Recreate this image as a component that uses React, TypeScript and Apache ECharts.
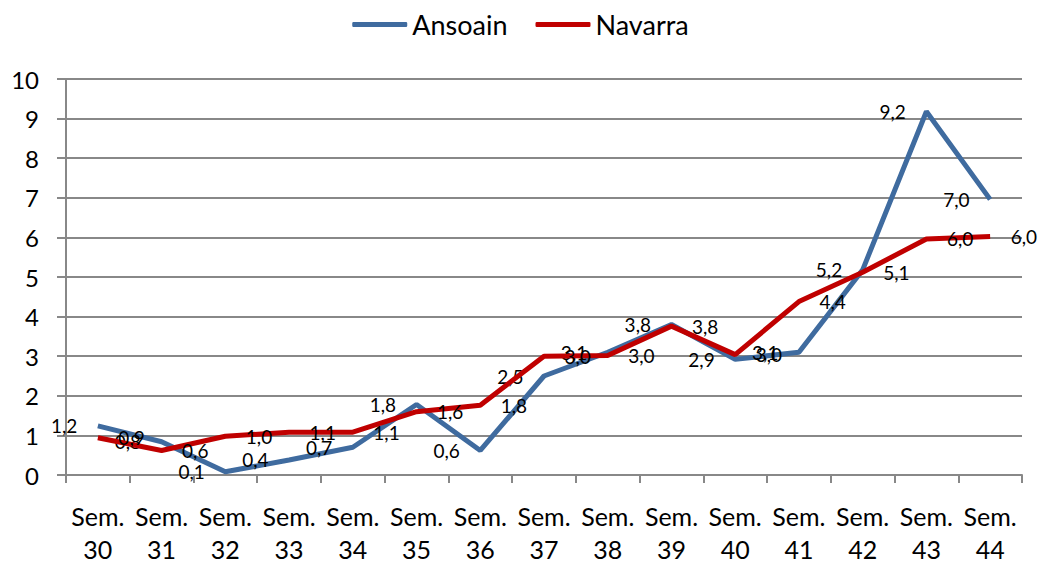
import React, { useEffect, useRef } from "react";
import * as echarts from "echarts";

const categories = [
  "Sem.\n30", "Sem.\n31", "Sem.\n32", "Sem.\n33", "Sem.\n34", "Sem.\n35", "Sem.\n36", "Sem.\n37",
  "Sem.\n38", "Sem.\n39", "Sem.\n40", "Sem.\n41", "Sem.\n42", "Sem.\n43", "Sem.\n44",
];
const ansoain = [1.24, 0.84, 0.08, 0.38, 0.7, 1.78, 0.62, 2.5, 3.1, 3.8, 2.92, 3.1, 5.18, 9.18, 6.96];
const navarra = [0.94, 0.62, 0.98, 1.08, 1.08, 1.6, 1.76, 3.0, 3.02, 3.76, 3.04, 4.38, 5.12, 5.96, 6.02];
const yTicks = [0, 1, 2, 3, 4, 5, 6, 7, 8, 9, 10];

const FONT = "Lato";
const GRAY = "#888888";
const BLUE = "#3F6B9F";
const RED = "#C00000";

export default function App() {
  const ref = useRef<HTMLDivElement>(null);
  useEffect(() => {
    const chart = echarts.init(ref.current!, null, { renderer: "svg" });
    const fmt = (p: any) => Number(p.value).toFixed(1).replace(".", ",");
    const labelBase = { show: true, distance: 20, formatter: fmt, color: "#000", fontSize: 19, fontFamily: FONT };
    chart.setOption({
      animation: false,
      textStyle: { fontFamily: FONT },
      legend: {
        top: 6,
        left: "center",
        icon: "roundRect",
        itemWidth: 55,
        itemHeight: 5,
        itemGap: 28,
        textStyle: { fontSize: 27, color: "#000", fontFamily: FONT },
        data: [
          { name: "Ansoain", itemStyle: { color: BLUE, opacity: 1 } },
          { name: "Navarra", itemStyle: { color: RED, opacity: 1 } },
        ],
      },
      grid: { left: 66, right: 19, top: 79, bottom: 87, containLabel: false },
      xAxis: {
        type: "category",
        data: categories,
        boundaryGap: true,
        axisLine: { lineStyle: { color: GRAY, width: 2 } },
        axisTick: { show: true, length: 8, lineStyle: { color: GRAY, width: 2 } },
        axisLabel: {
          color: "#000",
          fontSize: 25,
          lineHeight: 33,
          margin: 24,
          interval: 0,
          fontFamily: FONT,
        },
      },
      yAxis: {
        type: "value",
        min: yTicks[0],
        max: yTicks[yTicks.length - 1],
        interval: 1,
        axisLine: { show: true, lineStyle: { color: GRAY, width: 2 } },
        axisTick: { show: true, length: 9, lineStyle: { color: GRAY, width: 2 } },
        splitLine: { lineStyle: { color: GRAY, width: 2 } },
        axisLabel: { color: "#000", fontSize: 24, margin: 27, fontFamily: FONT },
      },
      series: [
        {
          name: "Ansoain",
          type: "line",
          data: ansoain,
          symbol: "circle",
          symbolSize: 1,
          showSymbol: true,
          showAllSymbol: true,
          lineStyle: { color: BLUE, width: 5 },
          itemStyle: { color: "rgba(0,0,0,0)", borderWidth: 0 },
          label: { ...labelBase, position: "left" },
          labelLayout: { hideOverlap: false },
          z: 2,
        },
        {
          name: "Navarra",
          type: "line",
          data: navarra,
          symbol: "circle",
          symbolSize: 1,
          showSymbol: true,
          showAllSymbol: true,
          lineStyle: { color: RED, width: 5 },
          itemStyle: { color: "rgba(0,0,0,0)", borderWidth: 0 },
          label: { ...labelBase, position: "right" },
          labelLayout: { hideOverlap: false },
          z: 3,
        },
      ],
    });
    return () => chart.dispose();
  }, []);
  return (
    <div
      ref={ref}
      style={{ position: "fixed", left: 0, top: 0, width: 1041, height: 565, background: "#fff" }}
    />
  );
}
